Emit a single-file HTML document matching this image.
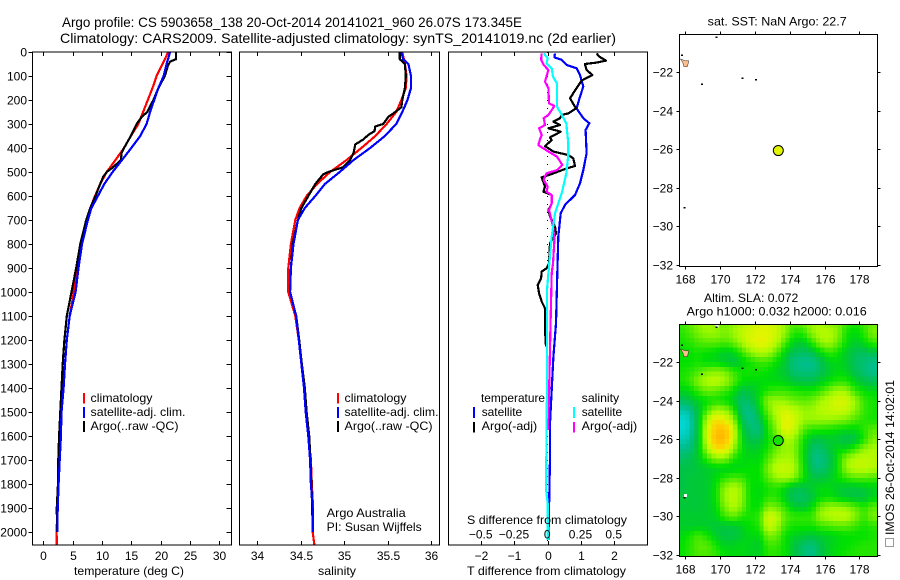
<!DOCTYPE html>
<html>
<head>
<meta charset="utf-8">
<title>Argo profile</title>
<style>
html,body{margin:0;padding:0;background:#fff;}
svg{display:block;}
text{font-family:"Liberation Sans",sans-serif;font-size:12px;fill:#000;}
.title{font-size:14px;}
.frame{fill:none;stroke:#000;stroke-width:1.4;shape-rendering:crispEdges;}
.frame2{fill:none;stroke:#000;stroke-width:1;shape-rendering:crispEdges;}
</style>
</head>
<body>
<svg id="chart" xmlns="http://www.w3.org/2000/svg" width="900" height="580" viewBox="0 0 900 580">
<rect x="0" y="0" width="900" height="580" fill="#fff"/>
<text class="title" x="62" y="27" textLength="460" lengthAdjust="spacingAndGlyphs">Argo profile: CS 5903658_138 20-Oct-2014 20141021_960 26.07S 173.345E</text>
<text class="title" x="60" y="43" textLength="556" lengthAdjust="spacingAndGlyphs">Climatology: CARS2009. Satellite-adjusted climatology: synTS_20141019.nc (2d earlier)</text>

<g id="layer-heat"></g>
<g id="layer-lines"></g>
<g id="layer-axes"></g>

<rect class="frame" x="32.5" y="52" width="199" height="493"/>
<rect class="frame" x="239.5" y="52" width="200" height="493"/>
<rect class="frame" x="448.5" y="52" width="199" height="493"/>
<rect class="frame2" x="679.5" y="34.5" width="198" height="232"/>
<rect class="frame2" x="679.5" y="324.5" width="198" height="232"/>

<text x="74" y="575" textLength="110" lengthAdjust="spacingAndGlyphs">temperature (deg C)</text>
<text x="318" y="575" textLength="38" lengthAdjust="spacingAndGlyphs">salinity</text>
<text x="467" y="575" textLength="159" lengthAdjust="spacingAndGlyphs">T difference from climatology</text>
<text x="467" y="524" textLength="160" lengthAdjust="spacingAndGlyphs">S difference from climatology</text>

<g>
<rect x="83" y="393" width="2" height="10.5" fill="#f00"/>
<rect x="83" y="407" width="2" height="11" fill="#00f"/>
<rect x="83" y="421" width="2" height="11" fill="#000"/>
<text x="90.5" y="402" textLength="62" lengthAdjust="spacingAndGlyphs">climatology</text>
<text x="90.5" y="416" textLength="95" lengthAdjust="spacingAndGlyphs">satellite-adj. clim.</text>
<text x="90.5" y="430" textLength="88" lengthAdjust="spacingAndGlyphs">Argo(..raw -QC)</text>
</g>
<g>
<rect x="337" y="393" width="2" height="10.5" fill="#f00"/>
<rect x="337" y="407" width="2" height="11" fill="#00f"/>
<rect x="337" y="421" width="2" height="11" fill="#000"/>
<text x="344.5" y="402" textLength="62" lengthAdjust="spacingAndGlyphs">climatology</text>
<text x="344.5" y="416" textLength="94" lengthAdjust="spacingAndGlyphs">satellite-adj. clim.</text>
<text x="344.5" y="430" textLength="88" lengthAdjust="spacingAndGlyphs">Argo(..raw -QC)</text>
</g>
<text x="326.7" y="517" textLength="79" lengthAdjust="spacingAndGlyphs">Argo Australia</text>
<text x="326.7" y="531" textLength="95" lengthAdjust="spacingAndGlyphs">PI: Susan Wijffels</text>

<g>
<text x="481" y="402" textLength="64" lengthAdjust="spacingAndGlyphs">temperature</text>
<rect x="473" y="407" width="2" height="11" fill="#00f"/>
<rect x="473" y="422" width="2" height="10.5" fill="#000"/>
<text x="481.7" y="416" textLength="40.5" lengthAdjust="spacingAndGlyphs">satellite</text>
<text x="481.7" y="430" textLength="55.5" lengthAdjust="spacingAndGlyphs">Argo(-adj)</text>
<text x="581.7" y="402" textLength="37.5" lengthAdjust="spacingAndGlyphs">salinity</text>
<rect x="573" y="407" width="2" height="11" fill="#0ff"/>
<rect x="573" y="422" width="2" height="10.5" fill="#f0f"/>
<text x="581.7" y="416" textLength="40.5" lengthAdjust="spacingAndGlyphs">satellite</text>
<text x="581.7" y="430" textLength="55.5" lengthAdjust="spacingAndGlyphs">Argo(-adj)</text>
</g>

<text x="707.7" y="25.5" textLength="139" lengthAdjust="spacingAndGlyphs">sat. SST: NaN Argo: 22.7</text>
<text x="704" y="302" textLength="94.3" lengthAdjust="spacingAndGlyphs">Altim. SLA: 0.072</text>
<text x="686.7" y="315.5" textLength="180" lengthAdjust="spacingAndGlyphs">Argo h1000: 0.032 h2000: 0.016</text>

<rect x="885.5" y="538.5" width="8" height="8" fill="none" stroke="#333" stroke-width="1" stroke-dasharray="1 1"/>
<text transform="translate(894 535) rotate(-90)" x="0" y="0" textLength="155" lengthAdjust="spacingAndGlyphs">IMOS 26-Oct-2014 14:02:01</text>
</svg>

<script>
// ---------- axis tick labels ----------
const depthTicks = [0,100,200,300,400,500,600,700,800,900,1000,1100,1200,1300,1400,1500,1600,1700,1800,1900,2000];
const tempTicks = [0,5,10,15,20,25,30];
const salTicks = [34,34.5,35,35.5,36];
const tDiffTicks = [-2,-1,0,1,2];
const sDiffTicks = [-0.5,-0.25,0,0.25,0.5];
const lonTicks = [168,170,172,174,176,178];
const latTicks = [-22,-24,-26,-28,-30,-32];

// ---------- temperature profiles ----------
const tClimDepth = [0,50,100,150,200,250,300,350,400,450,500,550,600,650,700,800,900,1000,1100,1200,1300,1400,1500,1600,1700,1800,1900,2000,2054];
const tClimVal = [21.3,20.3,19.3,18.6,17.8,17,16.2,14.9,13.75,12.3,10.8,9.7,8.8,8,7.3,6.4,5.8,5.2,4.5,4,3.7,3.4,3.1,3,2.8,2.5,2.4,2.27,2.3];
const tSatDepth = [0,50,100,150,200,250,300,350,400,450,500,550,600,650,700,800,900,1000,1100,1200,1300,1400,1500,1600,1700,1800,1900,2000];
const tSatVal = [21.6,21,20.5,19.6,18.9,18.2,17.6,16.5,15,13.4,11.8,10.4,9.3,8.2,7.6,6.6,6,5.5,4.5,4,3.7,3.45,3.1,3,2.8,2.6,2.45,2.4];
const tArgoDepth = [0,30,40,60,100,150,200,250,270,300,350,400,420,450,480,500,520,550,600,650,700,800,900,1000,1100,1200,1300,1400,1500,1600,1700,1800,1900,2000];
const tArgoVal = [22.6,22.6,21.6,21.2,20.7,19.6,18.75,17.7,16.8,15.9,14.9,13.75,13.35,13.2,11.9,10.8,10.2,9.7,8.9,8,7.3,6.3,5.6,4.8,4,3.6,3.3,3.1,2.9,2.7,2.55,2.5,2.3,2.33];

// ---------- salinity profiles ----------
const sClimDepth = [0,50,100,150,200,250,300,350,400,450,500,550,600,650,700,800,900,1000,1100,1200,1300,1400,1500,1600,1700,1800,1900,2000,2054];
const sClimVal = [35.67,35.7,35.72,35.71,35.66,35.6,35.49,35.36,35.2,35.03,34.84,34.69,34.57,34.49,34.44,34.39,34.36,34.36,34.44,34.48,34.51,34.54,34.56,34.59,34.62,34.63,34.645,34.64,34.66];
const sSatDepth = [0,30,50,100,150,200,250,300,350,400,450,500,550,600,650,700,800,900,1000,1100,1200,1300,1400,1500,1600,1700,1800,1900,2000];
const sSatVal = [35.66,35.68,35.74,35.77,35.77,35.73,35.67,35.6,35.47,35.3,35.11,34.95,34.78,34.67,34.55,34.47,34.42,34.39,34.38,34.45,34.48,34.51,34.54,34.56,34.59,34.61,34.62,34.64,34.64];
const sArgoDepth = [0,30,50,100,150,200,230,250,270,300,310,330,345,365,385,420,450,480,500,510,550,600,650,700,800,900,1000,1100,1200,1300,1400,1500,1600,1700,1800,1900,2000];
const sArgoVal = [35.64,35.64,35.7,35.71,35.7,35.67,35.66,35.59,35.51,35.45,35.36,35.35,35.28,35.22,35.13,35.11,35.07,34.99,34.82,34.76,34.67,34.59,34.51,34.47,34.41,34.39,34.38,34.45,34.485,34.515,34.55,34.57,34.6,34.615,34.625,34.635,34.64];

// ---------- difference profiles ----------
const dtSatDepth = [6,22,33,54,68,96,144,186,235,276,297,325,422,492,547,596,637,672,769,922,1131,1269,1408,1547,1686,1825,2033];
const dtSatVal = [0.22,0.2,0.42,0.57,0.87,0.97,1.07,0.97,0.87,1.07,1.25,1.14,1.17,1.07,0.97,0.82,0.52,0.39,0.32,0.29,0.25,0.17,0.12,0.07,0.07,0.05,0.02];
const dtArgoDepth = [6,19,36,44,50,75,96,119,165,193,235,256,262,276,290,304,318,332,356,367,392,415,429,443,475,485,506,522,561,582,596,631,658,686,728,756,797,881,901,915,943,971,1006,1040,1068,1158,1228];
const dtArgoVal = [1.47,1.55,1.75,1.47,1.12,1.17,1.34,1.02,0.8,0.67,0.85,0.62,0.42,0.37,0.17,0.37,0.02,0.39,0.07,0.12,-0.08,0.17,0.62,0.77,0.82,0.57,0.17,-0.18,-0.08,-0.13,0.12,0.12,0.02,0.07,0.22,0.25,0.07,0.04,-0.03,-0.18,-0.2,-0.3,-0.26,-0.18,-0.08,-0.08,-0.05];
const dsSatDepth = [6,26,47,68,103,131,228,262,297,381,429,506,589,672,769,922,992,1158,1408,1547,1825,1880,2033];
const dsSatVal = [-0.03,0,-0.01,0.03,0.04,0.07,0.07,0.105,0.14,0.155,0.155,0.14,0.105,0.055,0.03,0.005,-0.005,-0.005,-0.005,-0.008,-0.012,0,0];
const dsArgoDepth = [6,33,54,75,124,151,214,225,242,262,276,304,318,346,367,388,415,436,471,492,506,533,561,582,596,631,658,728,783,881,922,1158,1436,1575];
const dsArgoVal = [-0.045,-0.05,-0.03,0.005,-0.02,0.005,0.01,0.05,0.03,0.005,-0.03,-0.02,-0.065,-0.045,-0.06,-0.07,0.005,0.07,0.11,0.07,-0.01,-0.03,0,-0.01,0.03,0.03,0.01,0.04,0.05,0.04,0.03,0.02,0.01,0];

// ---------- map data ----------
const floatLon = 173.345;
const floatLat = -26.07;
const islandLon = [169.8,171.3,172.05,168.95,167.95,167.8];
const islandLat = [-20.22,-22.33,-22.42,-22.65,-29.05,-21.15];
const gapLon = [169.8,167.98];
const gapLat = [-20.15,-28.95];
const slaLon0 = 167.75;
const slaLat0 = -20;
const slaStep = 0.5;
// sea level anomaly, cm, rows from 20S to 32S, columns from 167.75E eastward
const slaGrid = [
[3,5,8,10,8,6,8,10,12,14,14,12,8,4,6,9,10,8,7,3,1,3,6],
[2,4,7,9,9,7,9,12,14,15,15,13,8,2,2,8,11,11,8,1,-1,2,7],
[1,2,4,5,5,4,6,10,14,16,15,11,4,-2,-3,2,8,10,6,0,-3,-1,3],
[0,0,1,0,-1,-3,-2,3,8,11,10,5,-2,-6,-7,-6,-1,3,1,-3,-6,-7,-5],
[0,0,1,-1,-1,-3,-5,-2,1,3,3,0,-4,-9,-10,-10,-7,-2,-1,-3,-7,-8,-10],
[1,2,4,7,8,7,3,1,1,1,0,-2,-4,-8,-9,-9,-7,-3,-1,-2,-6,-8,-10],
[1,3,8,11,12,10,5,0,-1,-1,-1,-1,-2,-4,-5,-5,-3,0,2,2,-2,-5,-6],
[-2,-1,3,6,5,3,0,-5,-4,-1,2,3,3,2,1,1,3,7,10,9,3,0,-1],
[-7,-5,-2,0,1,0,-3,-8,-6,0,8,9,8,6,5,6,9,12,14,14,9,3,1],
[-12,-11,-4,4,10,9,3,-8,-10,-2,6,12,14,12,9,9,11,12,13,12,8,3,1],
[-15,-13,-4,11,18,16,9,-5,-10,-6,3,10,16,14,9,9,9,9,8,7,4,2,1],
[-15,-13,-4,14,21,22,14,-2,-8,-9,1,8,16,13,5,2,2,1,0,-1,-1,2,5],
[-13,-11,-4,14,23,23,13,0,-6,-5,0,4,10,9,1,-4,-5,-3,-4,-6,-5,1,7],
[-10,-9,-3,10,18,18,9,0,-3,-2,1,6,9,8,0,-7,-8,-4,-1,-1,3,8,10],
[-7,-6,-3,3,8,8,2,-1,-1,-1,4,9,10,9,0,-8,-10,-6,0,8,11,12,11],
[-5,-5,-4,-3,-2,-2,-2,-1,0,0,7,12,13,11,1,-7,-9,-5,0,9,12,12,11],
[-5,-4,-4,-3,-1,2,4,3,0,0,5,9,10,8,1,-4,-5,-3,0,3,5,5,4],
[-5,-4,-4,-3,0,8,11,8,0,-1,1,2,-1,-5,-5,-3,-1,-1,-3,-4,-4,-3,-2],
[-4,-4,-4,-3,0,9,12,8,0,-1,2,2,-3,-7,-7,-5,-1,0,-2,-4,-5,-5,-2],
[-4,-4,-4,-3,-1,7,11,7,0,0,7,6,2,-3,-4,-1,6,9,9,8,5,2,5],
[-3,-3,-3,-3,-2,3,6,2,1,3,14,12,5,3,3,3,9,11,12,12,8,3,7],
[-3,-3,-3,-3,-4,-4,-4,-2,0,2,13,10,3,1,1,1,3,4,5,5,3,1,2],
[-1,1,4,1,-3,-5,-5,-3,-1,-1,7,6,0,-2,-3,-4,-3,-2,-1,0,0,0,1],
[0,2,5,5,1,-2,-2,-1,-2,-3,3,3,0,-4,-8,-9,-6,-2,-1,0,1,2,2],
[0,2,4,4,3,0,-1,-1,-2,-2,2,2,0,-4,-8,-10,-6,-2,0,1,2,2,2]
];

// ---------- scales ----------
const NS = 'http://www.w3.org/2000/svg';
const yDepth = d => 52 + 0.24 * d;
const xTemp = t => 43.3 + 5.87 * t;
const xSal = s => 257 + 87 * (s - 34);
const xTDiff = t => 547.7 + 33.25 * t;
const xSDiff = s => 547.7 + 133 * s;
const xLon = lon => 685.3 + 17.4 * (lon - 168);
const yLatTop = lat => 72 + 19.3 * (-22 - lat);
const yLatBottom = lat => 362 + 19.3 * (-22 - lat);
const fmt = v => String(v).replace('-', '\u2212');

function make(tag, parent, attrs, txt) {
  const e = document.createElementNS(NS, tag);
  for (const k in attrs) e.setAttribute(k, attrs[k]);
  if (txt !== undefined) e.textContent = txt;
  parent.appendChild(e);
  return e;
}
const layerLines = document.getElementById('layer-lines');
const layerAxes = document.getElementById('layer-axes');
const layerHeat = document.getElementById('layer-heat');

function profile(depths, vals, xf, color, width, name) {
  const pts = depths.map((d, i) => xf(vals[i]).toFixed(1) + ',' + yDepth(d).toFixed(1)).join(' ');
  const p = make('polyline', layerLines, {points: pts, fill: 'none', stroke: color, 'stroke-width': width, 'shape-rendering': 'crispEdges', 'stroke-linejoin': 'round'});
  
  
}

// zero line in the difference panel
const zeroLine = make('line', layerLines, {x1: xTDiff(0), x2: xTDiff(0), y1: 52, y2: 545, stroke: '#000', 'stroke-width': 1, 'stroke-dasharray': '1 7', 'shape-rendering': 'crispEdges'});



profile(tClimDepth, tClimVal, xTemp, '#f00', 2.2, 'temperature-climatology-line');
profile(tArgoDepth, tArgoVal, xTemp, '#000', 2.2, 'temperature-argo-line');
profile(tSatDepth, tSatVal, xTemp, '#00f', 2.2, 'temperature-satellite-line');
profile(sClimDepth, sClimVal, xSal, '#f00', 2.2, 'salinity-climatology-line');
profile(sArgoDepth, sArgoVal, xSal, '#000', 2.2, 'salinity-argo-line');
profile(sSatDepth, sSatVal, xSal, '#00f', 2.2, 'salinity-satellite-line');
profile(dtSatDepth, dtSatVal, xTDiff, '#00f', 2.2, 'temperature-satellite-difference-line');
profile(dtArgoDepth, dtArgoVal, xTDiff, '#000', 2.2, 'temperature-argo-difference-line');
profile(dsArgoDepth, dsArgoVal, xSDiff, '#f0f', 2.2, 'salinity-argo-difference-line');
profile(dsSatDepth, dsSatVal, xSDiff, '#0ff', 2.2, 'salinity-satellite-difference-line');

// ---------- ticks ----------
function tick(x1, y1, x2, y2) {
  const l = make('line', layerAxes, {x1: x1, y1: y1, x2: x2, y2: y2, stroke: '#000', 'stroke-width': 1, 'shape-rendering': 'crispEdges'});
  
  
}
function label(x, y, s, anchor) {
  const t = make('text', layerAxes, {x: x, y: y, 'text-anchor': anchor}, s);
  
  
}
depthTicks.forEach(d => {
  const y = Math.round(yDepth(d)) + 0.5;
  tick(28.5, y, 32.5, y);
  tick(226.5, y, 231.5, y);
  label(27, y + 4, String(d), 'end');
});
tempTicks.forEach(t => {
  const x = Math.round(xTemp(t)) + 0.5;
  tick(x, 52, x, 56);
  tick(x, 541, x, 545);
  label(x, 560, String(t), 'middle');
});
salTicks.forEach(s => {
  const x = Math.round(xSal(s)) + 0.5;
  tick(x, 52, x, 56);
  tick(x, 541, x, 545);
  label(x, 560, String(s), 'middle');
});
tDiffTicks.forEach(t => {
  const x = Math.round(xTDiff(t)) + 0.5;
  tick(x, 52, x, 56);
  tick(x, 541, x, 545);
  label(x, 560, fmt(t), 'middle');
});
sDiffTicks.forEach(s => {
  label(xSDiff(s) - 0.5, 538.5, fmt(s), 'middle');
});

[[yLatTop, 34.5, 266.5], [yLatBottom, 324.5, 556.5]].forEach(m => {
  lonTicks.forEach(lon => {
    const x = Math.round(xLon(lon)) + 0.5;
    tick(x, m[1] - 3, x, m[1]);
    tick(x, m[2], x, m[2] + 3);
    label(x, m[2] + 17, String(lon), 'middle');
  });
  latTicks.forEach(lat => {
    const y = Math.round(m[0](lat)) + 0.5;
    tick(676.5, y, 679.5, y);
    tick(877.5, y, 880.5, y);
    label(673, y + 4, fmt(lat), 'end');
  });
});

// ---------- heatmap ----------
const colorStops = [[-15,0,215,215],[-10,0,190,140],[-5,0,195,70],[-2,0,210,30],[0,0,225,0],[5,90,235,0],[10,170,250,0],[15,225,245,0],[20,255,205,0],[25,255,170,0]];
function slaColor(v) {
  if (v <= colorStops[0][0]) v = colorStops[0][0];
  for (let i = 1; i < colorStops.length; i++) {
    const a = colorStops[i - 1], b = colorStops[i];
    if (v <= b[0]) {
      const f = (v - a[0]) / (b[0] - a[0]);
      return 'rgb(' + Math.round(a[1] + f * (b[1] - a[1])) + ',' + Math.round(a[2] + f * (b[2] - a[2])) + ',' + Math.round(a[3] + f * (b[3] - a[3])) + ')';
    }
  }
  return 'rgb(255,170,0)';
}
// map shading: the grid is shaded bilinearly onto quarter-degree cells
function slaAt(lon, lat) {
  const fc = Math.min(Math.max((lon - slaLon0) / slaStep, 0), slaGrid[0].length - 1);
  const fr = Math.min(Math.max((slaLat0 - lat) / slaStep, 0), slaGrid.length - 1);
  const c = Math.min(Math.floor(fc), slaGrid[0].length - 2);
  const r = Math.min(Math.floor(fr), slaGrid.length - 2);
  const u = fc - c, w = fr - r;
  return (slaGrid[r][c] * (1 - u) + slaGrid[r][c + 1] * u) * (1 - w) + (slaGrid[r + 1][c] * (1 - u) + slaGrid[r + 1][c + 1] * u) * w;
}
const cellDeg = 0.25;
const clip = make('clipPath', layerHeat, {id: 'sla-clip'});
make('rect', clip, {x: 679.5, y: 324.5, width: 198, height: 232});
const cellGroup = make('g', layerHeat, {'clip-path': 'url(#sla-clip)'});


for (let lat = -20; lat >= -32.25; lat -= cellDeg) {
  for (let lon = 167.5; lon <= 179.25; lon += cellDeg) {
    const x = xLon(lon), y = yLatBottom(lat);
    const cell = make('rect', cellGroup, {x: x.toFixed(1), y: y.toFixed(1), width: (17.4 * cellDeg + 0.6).toFixed(1), height: (19.3 * cellDeg + 0.6).toFixed(1), fill: slaColor(slaAt(lon + cellDeg / 2, lat - cellDeg / 2)), 'shape-rendering': 'crispEdges'});
    
    
  }
}

// ---------- map overlays ----------
gapLon.forEach((lon, i) => {
  const g = make('rect', layerAxes, {x: (xLon(lon) - 1).toFixed(1), y: (yLatBottom(gapLat[i]) - 2).toFixed(1), width: 3, height: 3, fill: '#fff', 'shape-rendering': 'crispEdges'});
  
  
});
[yLatTop, yLatBottom].forEach(yf => {
  islandLon.forEach((lon, i) => {
    const s = make('rect', layerAxes, {x: (xLon(lon) - 1).toFixed(1), y: (yf(islandLat[i]) - 1).toFixed(1), width: 2, height: 1.5, fill: '#000', 'shape-rendering': 'crispEdges'});
    
    
  });
  const pts = [[167.72,-21.32],[168.0,-21.42],[168.2,-21.42],[168.12,-21.72],[167.92,-21.72],[167.85,-21.5]];
  const land = make('polygon', layerAxes, {points: pts.map(p => xLon(p[0]).toFixed(1) + ',' + yf(p[1]).toFixed(1)).join(' '), fill: '#ffbe8c', stroke: '#222', 'stroke-width': 0.5});
  
  
});
const dotSst = make('circle', layerAxes, {cx: xLon(floatLon), cy: yLatTop(floatLat), r: 5, fill: '#e1f500', stroke: '#000', 'stroke-width': 1});


const dotSla = make('circle', layerAxes, {cx: xLon(floatLon), cy: yLatBottom(floatLat), r: 5, fill: slaColor(1), stroke: '#000', 'stroke-width': 1});


</script>
</body>
</html>
